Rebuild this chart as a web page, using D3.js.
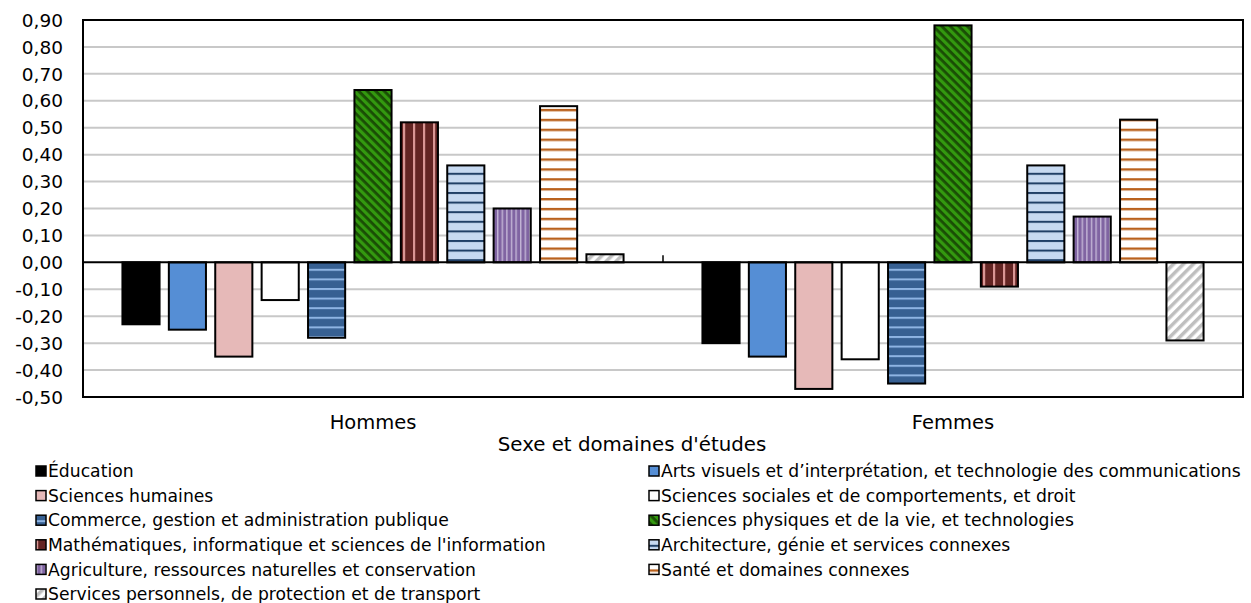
<!DOCTYPE html>
<html>
<head>
<meta charset="utf-8">
<script src="https://cdn.jsdelivr.net/npm/d3@7"></script>
<style>
  body { margin: 0; background: #fff; }
  svg { display: block; font-family: "DejaVu Sans", Verdana, sans-serif; }
</style>
</head>
<body>
<svg id="chart" width="1251" height="603"></svg>
<script>
const categories = ["Hommes", "Femmes"];
const series = [
    "Éducation",
    "Arts visuels et d’interprétation, et technologie des communications",
    "Sciences humaines",
    "Sciences sociales et de comportements, et droit",
    "Commerce, gestion et administration publique",
    "Sciences physiques et de la vie, et technologies",
    "Mathématiques, informatique et sciences de l'information",
    "Architecture, génie et services connexes",
    "Agriculture, ressources naturelles et conservation",
    "Santé et domaines connexes",
    "Services personnels, de protection et de transport"
];
const hommes = [-0.23, -0.25, -0.35, -0.14, -0.28, 0.64, 0.52, 0.36, 0.20, 0.58, 0.03];
const femmes = [-0.30, -0.35, -0.47, -0.36, -0.45, 0.88, -0.09, 0.36, 0.17, 0.53, -0.29];
const yTicks = [-0.5, -0.4, -0.3, -0.2, -0.1, 0, 0.1, 0.2, 0.3, 0.4, 0.5, 0.6, 0.7, 0.8, 0.9];

const svg = d3.select("#chart");
const plotLeft = 83, plotRight = 1243, plotTop = 20, plotBottom = 397;

const x0 = d3.scaleBand().domain(categories).range([plotLeft, plotRight]);
const x1 = d3.scaleBand().domain(d3.range(series.length))
    .range([0, x0.bandwidth()]).paddingInner(0.2).paddingOuter(0.85);
const y = d3.scaleLinear().domain([-0.5, 0.9]).range([plotBottom, plotTop]);

// patterns
const defs = svg.append("defs");
function stripes(id, size, bg, fg, w, dir) {
    const p = defs.append("pattern").attr("id", id)
        .attr("patternUnits", "userSpaceOnUse")
        .attr("width", size).attr("height", size);
    if (dir === "diagUp" || dir === "diagDown")
        p.attr("patternTransform", "rotate(" + (dir === "diagUp" ? 45 : -45) + ")");
    p.append("rect").attr("width", size).attr("height", size).attr("fill", bg);
    if (dir === "h" || dir === "diagUp" || dir === "diagDown")
        p.append("rect").attr("y", 0).attr("width", size).attr("height", w).attr("fill", fg);
    else
        p.append("rect").attr("x", 0).attr("width", w).attr("height", size).attr("fill", fg);
}
stripes("p4", 9.6, "#376092", "#8EB4E3", 2, "h");
stripes("p5", 6, "#33990F", "#1A4D05", 2.8, "diagUp");
stripes("p6", 10, "#632523", "#D99694", 2.2, "v");
stripes("p7", 9.6, "#C6D9F1", "#1F3F66", 2, "h");
stripes("p8", 4.6, "#8064A2", "#C3B5D6", 1.4, "v");
stripes("p9", 9.9, "#FFFFFF", "#B9611D", 2.4, "h");
stripes("p10", 7, "#FFFFFF", "#BFBFBF", 3.5, "diagDown");

const fills = ["#000000", "#558ED5", "#E6B9B8", "#FFFFFF", "url(#p4)", "url(#p5)",
    "url(#p6)", "url(#p7)", "url(#p8)", "url(#p9)", "url(#p10)"];

// gridlines
svg.append("g").selectAll("line").data(yTicks.filter(d => d !== 0 && d !== 0.9 && d !== -0.5))
    .join("line")
    .attr("x1", plotLeft).attr("x2", plotRight)
    .attr("y1", d => y(d)).attr("y2", d => y(d))
    .attr("stroke", "#C8C8C8").attr("stroke-width", 2);

// y tick labels
svg.append("g").selectAll("text").data(yTicks).join("text")
    .attr("x", 63).attr("y", d => y(d)).attr("dy", "0.36em")
    .attr("text-anchor", "end").attr("font-size", 18.5).attr("fill", "#000")
    .text(d => d3.format(".2f")(d).replace(".", ",").replace("−", "-"));

// bars
const data = categories.map((c, i) => ({ cat: c, values: i === 0 ? hommes : femmes }));
const groups = svg.append("g").selectAll("g").data(data).join("g")
    .attr("transform", d => `translate(${x0(d.cat)},0)`);
groups.selectAll("rect").data(d => d.values.map((v, i) => ({ v, i }))).join("rect")
    .attr("x", d => x1(d.i))
    .attr("width", x1.bandwidth())
    .attr("y", d => y(Math.max(0, d.v)))
    .attr("height", d => Math.abs(y(d.v) - y(0)))
    .attr("fill", d => fills[d.i])
    .attr("stroke", "#000").attr("stroke-width", 2);

// zero line and category divider
svg.append("line").attr("x1", plotLeft).attr("x2", plotRight)
    .attr("y1", y(0)).attr("y2", y(0)).attr("stroke", "#000").attr("stroke-width", 2);
svg.append("line").attr("x1", x0("Femmes")).attr("x2", x0("Femmes"))
    .attr("y1", y(0) - 7).attr("y2", y(0)).attr("stroke", "#000").attr("stroke-width", 1.5);

// frame
svg.append("rect").attr("x", plotLeft).attr("y", plotTop)
    .attr("width", plotRight - plotLeft).attr("height", plotBottom - plotTop)
    .attr("fill", "none").attr("stroke", "#000").attr("stroke-width", 2);

// category labels
svg.append("g").selectAll("text").data(categories).join("text")
    .attr("x", d => x0(d) + x0.bandwidth() / 2).attr("y", 422).attr("dy", "0.36em")
    .attr("text-anchor", "middle").attr("font-size", 19.5).text(d => d);

svg.append("text").attr("x", 632).attr("y", 444).attr("dy", "0.36em")
    .attr("text-anchor", "middle").attr("font-size", 19.8).text("Sexe et domaines d'études");

// legend
const leg = svg.append("g").selectAll("g").data(series).join("g")
    .attr("transform", (d, i) => `translate(${i % 2 === 0 ? 36 : 649},${471 + Math.floor(i / 2) * 24.6})`);
leg.append("rect").attr("x", 0).attr("y", -5).attr("width", 10).attr("height", 10)
    .attr("fill", (d, i) => fills[i]).attr("stroke", "#000").attr("stroke-width", 1.5);
leg.append("text").attr("x", 12).attr("dy", "0.36em").attr("font-size", 17.2).text(d => d);
</script>
</body>
</html>
